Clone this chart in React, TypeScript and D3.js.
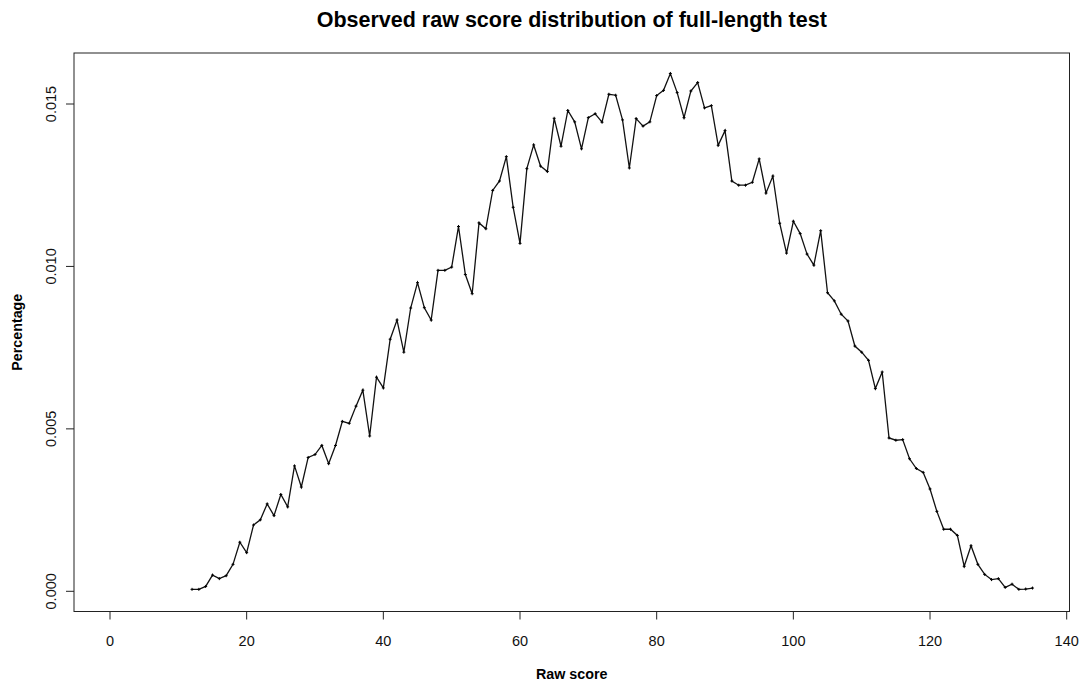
import React from "react";
import * as d3 from "d3";

const scores: number[] = [
  12, 13, 14, 15, 16, 17, 18, 19, 20, 21, 22, 23, 24, 25, 26, 27, 28, 29, 30, 31,
  32, 33, 34, 35, 36, 37, 38, 39, 40, 41, 42, 43, 44, 45, 46, 47, 48, 49, 50, 51,
  52, 53, 54, 55, 56, 57, 58, 59, 60, 61, 62, 63, 64, 65, 66, 67, 68, 69, 70, 71,
  72, 73, 74, 75, 76, 77, 78, 79, 80, 81, 82, 83, 84, 85, 86, 87, 88, 89, 90, 91,
  92, 93, 94, 95, 96, 97, 98, 99, 100, 101, 102, 103, 104, 105, 106, 107, 108, 109, 110, 111,
  112, 113, 114, 115, 116, 117, 118, 119, 120, 121, 122, 123, 124, 125, 126, 127, 128, 129, 130, 131,
  132, 133, 134, 135,
];

const percentages: number[] = [
  0.00006, 0.00006, 0.00015, 0.0005, 0.00039, 0.00048, 0.00083, 0.00151, 0.00119, 0.00204,
  0.0022, 0.00269, 0.00233, 0.00298, 0.0026, 0.00386, 0.00321, 0.00412, 0.00421, 0.00449,
  0.00393, 0.00449, 0.00523, 0.00517, 0.0057, 0.00619, 0.00478, 0.00659, 0.00626, 0.00776,
  0.00835, 0.00736, 0.00872, 0.0095, 0.00873, 0.00835, 0.00988, 0.00988, 0.00998, 0.01123,
  0.00975, 0.00916, 0.01134, 0.01116, 0.01234, 0.01263, 0.01338, 0.01182, 0.01071, 0.01301,
  0.01374, 0.01309, 0.01292, 0.01456, 0.0137, 0.0148, 0.01445, 0.01362, 0.01458, 0.0147,
  0.01444, 0.0153, 0.01527, 0.01451, 0.01303, 0.01455, 0.01432, 0.01445, 0.01526, 0.01542,
  0.01594, 0.01535, 0.01458, 0.0154, 0.01566, 0.01488, 0.01495, 0.01373, 0.01418, 0.01263,
  0.0125, 0.0125, 0.01259, 0.01331, 0.01226, 0.01278, 0.01133, 0.01041, 0.01139, 0.01101,
  0.01038, 0.01004, 0.0111, 0.00919, 0.00894, 0.00853, 0.00832, 0.00755, 0.00736, 0.00711,
  0.00624, 0.00675, 0.00472, 0.00465, 0.00467, 0.00408, 0.00378, 0.00366, 0.00315, 0.00246,
  0.00191, 0.00191, 0.00172, 0.00077, 0.0014, 0.00083, 0.00052, 0.00036, 0.00039, 0.00012,
  0.00022, 0.00006, 0.00007, 0.0001,
];

const xTicks: number[] = [0, 20, 40, 60, 80, 100, 120, 140];
const yTicks: number[] = [0, 0.005, 0.01, 0.015];

const title = "Observed raw score distribution of full-length test";
const xLabel = "Raw score";
const yLabel = "Percentage";

export default function App() {
  const W = 1086;
  const H = 687;
  const box = { left: 74, right: 1069.5, top: 53, bottom: 611.5 };

  const x = d3.scaleLinear().domain([0, 140]).range([110, 1066.7]);
  const y = d3.scaleLinear().domain([0, 0.015]).range([591.3, 104]);

  const pts = scores.map((s, i) => ({ s, v: percentages[i] }));
  const line = d3
    .line<{ s: number; v: number }>()
    .x((d) => x(d.s))
    .y((d) => y(d.v));

  const font = "'Liberation Sans', Arial, sans-serif";
  const c = "#000";

  return (
    <svg
      width={W}
      height={H}
      style={{ position: "absolute", left: 0, top: 0, background: "#fff" }}
      fontFamily={font}
    >
      <rect x={0} y={0} width={W} height={H} fill="#fff" />
      <text
        x={(box.left + box.right) / 2}
        y={27}
        textAnchor="middle"
        fontWeight="bold"
        fontSize={21.5}
        fill={c}
      >
        {title}
      </text>
      <rect
        x={box.left}
        y={box.top}
        width={box.right - box.left}
        height={box.bottom - box.top}
        fill="none"
        stroke="#222"
        strokeWidth={1}
      />
      {xTicks.map((t) => (
        <g key={"x" + t}>
          <line x1={x(t)} x2={x(t)} y1={box.bottom} y2={box.bottom + 8} stroke="#222" />
          <text x={x(t)} y={645.5} textAnchor="middle" fontSize={14.5} fill="#111">
            {t}
          </text>
        </g>
      ))}
      {yTicks.map((t) => (
        <g key={"y" + t}>
          <line x1={box.left - 8} x2={box.left} y1={y(t)} y2={y(t)} stroke="#222" />
          <text
            transform={`translate(55.5,${y(t)}) rotate(-90)`}
            textAnchor="middle"
            fontSize={14.5}
            fill="#111"
          >
            {t.toFixed(3)}
          </text>
        </g>
      ))}
      <text
        x={(box.left + box.right) / 2}
        y={679}
        textAnchor="middle"
        fontWeight="bold"
        fontSize={14.3}
        fill={c}
      >
        {xLabel}
      </text>
      <text
        transform={`translate(21.5,${(box.top + box.bottom) / 2}) rotate(-90)`}
        textAnchor="middle"
        fontWeight="bold"
        fontSize={14.3}
        fill={c}
      >
        {yLabel}
      </text>
      <path d={line(pts) || ""} fill="none" stroke="#111" strokeWidth={1.3} />
      {pts.map((p) => (
        <path
          key={p.s}
          d={`M${x(p.s) - 1.5},${y(p.v)}h3M${x(p.s)},${y(p.v) - 1.5}v3`}
          stroke="#000"
          strokeWidth={1}
        />
      ))}
    </svg>
  );
}
